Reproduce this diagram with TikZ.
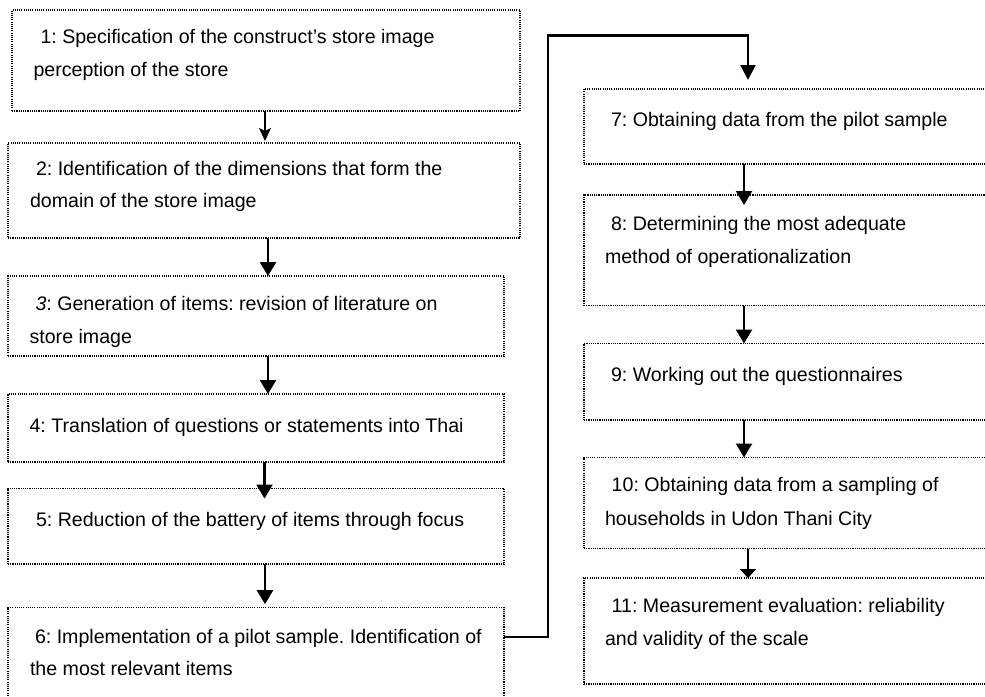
\documentclass[tikz,border=0pt]{standalone}
\usepackage{fontspec}
\setmainfont{Liberation Sans}
\usetikzlibrary{arrows.meta}
\begin{document}
\frenchspacing
\begin{tikzpicture}[x=1pt,y=-1pt,
  stepbox/.style={draw=black, line width=1.2pt, dash pattern=on 1.1pt off 1.1pt, inner sep=0pt, outer sep=0pt, anchor=north west},
  txt/.style={anchor=base west, inner sep=0pt, outer sep=0pt, font=\fontsize{19.6}{23}\selectfont},
  arr/.style={line width=2.2pt, -{Triangle[width=16pt,length=14pt]}},
  smallarr/.style={line width=1.5pt, -{Stealth[width=12pt,length=13pt,inset=3pt]}},
  shortarr/.style={line width=2.2pt, -{Triangle[width=16pt,length=9pt]}},
  longarr/.style={line width=2.6pt, -{Triangle[width=15pt,length=15pt]}},
]
\useasboundingbox (0,0) rectangle (985,696);
\clip (0,0) rectangle (985,696);
\fill[white] (0,0) rectangle (985,696);

% left column boxes
\node[stepbox, minimum width=508pt, minimum height=101pt] (b1) at (12,10) {};
\node[stepbox, minimum width=512pt, minimum height=95pt] (b2) at (8,143) {};
\node[stepbox, minimum width=496pt, minimum height=80pt] (b3) at (8,276) {};
\node[stepbox, minimum width=496pt, minimum height=68pt] (b4) at (8,394) {};
\node[stepbox, minimum width=496pt, minimum height=75.5pt] (b5) at (8,488.5) {};
\node[stepbox, minimum width=496pt, minimum height=120pt] (b6) at (8,607.7) {};

% right column boxes
\node[stepbox, minimum width=420pt, minimum height=75pt] (b7) at (584,89) {};
\node[stepbox, minimum width=420pt, minimum height=110.5pt] (b8) at (584,195) {};
\node[stepbox, minimum width=420pt, minimum height=76.5pt] (b9) at (584,343.5) {};
\node[stepbox, minimum width=420pt, minimum height=91pt] (b10) at (584,457.5) {};
\node[stepbox, minimum width=420pt, minimum height=106pt] (b11) at (584,578) {};

% texts
\node[txt] (t1a) at (40.5,43.3) {1: Specification of the construct’s store image};
\node[txt] (t1b) at (33.5,76.7) {perception of the store};
\node[txt] (t2a) at (36,175) {2: Identification of the dimensions that form the};
\node[txt] (t2b) at (30,207) {domain of the store image};
\node[txt] (t3a) at (35.5,310) {\textit{3}: Generation of items: revision of literature on};
\node[txt] (t3b) at (29.6,343.3) {store image};
\node[txt] (t4) at (29.6,432.5) {4: Translation of questions or statements into Thai};
\node[txt] (t5) at (36,526) {5: Reduction of the battery of items through focus};
\node[txt] (t6a) at (35,643.3) {6: Implementation of a pilot sample. Identification of};
\node[txt] (t6b) at (30,675) {the most relevant items};
\node[txt] (t7) at (611,126.7) {7: Obtaining data from the pilot sample};
\node[txt] (t8a) at (611,230) {8: Determining the most adequate};
\node[txt] (t8b) at (605,263) {method of operationalization};
\node[txt] (t9) at (611,381) {9: Working out the questionnaires};
\node[txt] (t10a) at (611.7,491.7) {10: Obtaining data from a sampling of};
\node[txt] (t10b) at (605,525) {households in Udon Thani City};
\node[txt] (t11a) at (611.7,612.7) {11: Measurement evaluation: reliability};
\node[txt] (t11b) at (605,645) {and validity of the scale};

% arrows, left column
\draw[smallarr] ([xshift=253pt]b1.south west) -- ([xshift=257pt,yshift=2pt]b2.north west);
\draw[arr] ([xshift=260pt]b2.south west) -- ([xshift=260pt]b3.north west);
\draw[arr] ([xshift=260pt]b3.south west) -- ([xshift=260pt]b4.north west);
\draw[arr] ([xshift=256.5pt]b4.south west) -- ([xshift=256.5pt,yshift=-10pt]b5.north west);
\draw[arr] ([xshift=257pt]b5.south west) -- ([xshift=257pt,yshift=3.5pt]b6.north west);

% connector 6 -> 7
\draw[longarr] ([yshift=-29.3pt]b6.north east) -- ++(44,0) |- ([xshift=164pt,yshift=53.3pt]b7.north west) -- ([xshift=164pt,yshift=9pt]b7.north west);

% arrows, right column
\draw[arr] ([xshift=160pt]b7.south west) -- ([xshift=160pt,yshift=-10pt]b8.north west);
\draw[arr] ([xshift=160pt]b8.south west) -- ([xshift=160pt]b9.north west);
\draw[arr] ([xshift=160pt]b9.south west) -- ([xshift=160pt]b10.north west);
\draw[shortarr] ([xshift=164pt]b10.south west) -- ([xshift=164pt]b11.north west);
\end{tikzpicture}
\end{document}
